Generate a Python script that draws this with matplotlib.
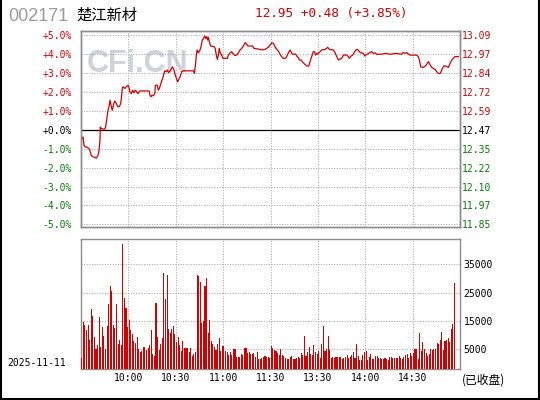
import matplotlib
matplotlib.use("Agg")
import matplotlib.pyplot as plt
import numpy as np
from matplotlib.lines import Line2D

code = "002171"
name = "楚江新材"
trade_date = "2025-11-11"
prev_close = 12.47
last_price = 12.95

# price line: trading minutes since 9:30 and % change vs previous close
times = [0.6, 1.3, 1.9, 2.7, 4.0, 5.5, 6.5, 8.0, 9.7, 10.8, 11.4, 12.0, 12.2, 12.9,
         15.0, 15.6, 16.2, 17.1, 17.7, 18.4, 19.0, 19.8, 20.5, 21.3, 22.4, 23.4,
         24.5, 25.3, 26.2, 26.8, 27.7, 28.7, 29.8, 30.4, 31.0, 31.9, 32.7, 33.6,
         34.4, 35.3, 36.1, 37.2, 43.1, 43.7, 44.3, 45.0, 45.8, 46.7, 47.1, 48.3,
         49.0, 49.8, 50.9, 52.0, 53.0, 54.0, 54.7, 55.5, 56.8, 58.0, 58.9, 59.7,
         61.2, 62.7, 63.8, 64.8, 71.1, 71.8, 72.6, 73.0, 73.5, 74.3, 75.2, 76.0,
         76.8, 77.7, 78.3, 79.0, 79.6, 80.2, 80.6, 81.3, 82.1, 84.4, 84.9, 85.5,
         86.3, 87.0, 87.6, 88.2, 89.1, 89.9, 92.7, 93.3, 94.4, 95.4, 96.5, 97.5,
         98.6, 99.6, 100.7, 101.8, 102.8, 103.9, 104.5, 105.6, 108.7, 109.4,
         113.4, 114.4, 116.5, 118.6, 119.7, 120.8, 121.8, 122.9, 123.9, 125.0,
         126.0, 127.1, 128.1, 129.6, 130.2, 131.3, 132.4, 133.0, 133.8, 136.0,
         136.6, 137.7, 138.3, 139.4, 140.2, 141.2, 142.3, 143.3, 144.2, 145.0,
         145.7, 146.3, 147.1, 147.8, 148.6, 149.2, 149.9, 150.7, 151.4, 152.4,
         154.5, 155.6, 156.2, 157.3, 159.8, 160.9, 162.0, 163.0, 164.0, 165.1,
         166.2, 168.3, 169.3, 169.9, 171.0, 172.1, 172.9, 174.0, 175.0, 175.9,
         176.7, 178.8, 179.7, 180.3, 182.0, 184.1, 185.1, 186.2, 187.3, 190.4,
         193.0, 196.0, 199.0, 203.1, 204.1, 205.2, 206.3, 207.3, 208.4, 212.6,
         213.6, 214.3, 215.1, 216.2, 217.4, 218.5, 220.0, 221.0, 222.1, 223.1,
         224.2, 225.3, 226.3, 227.4, 228.0, 228.9, 229.9, 231.0, 232.0, 232.6,
         233.7, 234.8, 235.8, 236.9, 239.0]
chg_pct = [-0.48, -0.39, -0.83, -0.92, -0.92, -1.06, -1.36, -1.45, -1.50, -1.36, -1.10, -0.57, 0.14, 0.05,
           0.02, 0.14, 0.49, 1.02, 1.20, 1.55, 1.29, 1.02, 1.29, 1.51, 1.37, 1.20,
           1.23, 1.46, 2.22, 2.26, 2.17, 2.26, 2.34, 2.22, 1.99, 1.90, 2.08, 1.94,
           2.08, 1.99, 1.90, 2.04, 2.04, 1.81, 1.73, 1.81, 1.78, 1.90, 2.34, 2.34,
           2.08, 2.22, 2.52, 2.78, 3.10, 3.05, 3.14, 3.00, 3.14, 3.31, 3.14, 2.87,
           2.52, 2.78, 3.05, 3.10, 3.10, 2.96, 3.49, 3.93, 4.20, 4.05, 4.16, 4.37,
           4.72, 4.81, 4.94, 4.81, 4.90, 4.72, 4.87, 4.63, 4.41, 4.37, 4.29, 4.02,
           3.70, 3.93, 4.29, 4.05, 3.93, 3.76, 3.76, 3.93, 4.05, 4.11, 3.98, 3.91,
           3.93, 4.05, 4.20, 4.29, 4.41, 4.58, 4.55, 4.41, 4.41, 4.29,
           4.23, 4.20, 4.23, 4.34, 4.46, 4.58, 4.55, 4.37, 4.23, 4.14,
           3.98, 3.84, 3.76, 3.76, 3.84, 4.05, 4.20, 4.11, 3.98, 3.98,
           3.88, 3.79, 3.67, 3.67, 3.58, 3.49, 3.40, 3.35, 3.35, 3.58,
           3.76, 3.93, 4.11, 4.11, 3.93, 4.02, 3.98, 4.05, 4.11, 4.20,
           4.23, 4.29, 4.34, 4.23, 4.20, 4.05, 3.84, 3.67, 3.72, 3.76,
           3.93, 3.93, 3.84, 3.76, 3.88, 3.93, 4.05, 4.20, 4.23, 4.16,
           4.07, 4.02, 3.88, 3.93, 4.02, 4.11, 4.02, 4.05, 3.97, 3.98,
           4.02, 3.97, 4.02, 3.98, 4.07, 4.02, 4.07, 3.98, 3.93, 3.93,
           3.84, 3.67, 3.31, 3.28, 3.31, 3.40, 3.58, 3.44, 3.28, 3.23,
           3.17, 3.05, 2.96, 2.96, 3.05, 3.23, 3.37, 3.35, 3.31, 3.28,
           3.49, 3.67, 3.76, 3.85, 3.85]

# per-minute volume (lots), morning 9:30-11:30 and afternoon from 13:00
vol_am = [2060, 14760, 13580, 11820, 13580, 8290, 19220, 16750, 9350, 5000,
          6520, 16400, 5700, 12990, 9700, 5110, 13230, 20990, 27330, 25570,
          13580, 12640, 20990, 6880, 8290, 6520, 42100, 23100, 19570, 12870,
          15340, 11820, 10400, 7940, 7230, 9350, 5110, 4060, 4530, 5820,
          5820, 4760, 5470, 6520, 11820, 3350, 2760, 21340, 9350, 4760,
          6880, 8990, 31920, 22750, 31210, 12170, 10760, 12170, 13230, 10400,
          7580, 9350, 6520, 4410, 7940, 5470, 5470, 5470, 4060, 5470,
          2650, 3350, 4060, 31210, 30860, 28750, 14280, 14990, 27330, 30160,
          10760, 15340, 7940, 6880, 5820, 4760, 6880, 8990, 4410, 6170,
          6170, 4410, 4060, 3000, 4060, 3000, 5110, 5110, 2170, 2290,
          2290, 3350, 2880, 5470, 5470, 3700, 4060, 3350, 3350, 3700,
          2290, 4060, 1590, 1590, 1940, 2290, 2650, 2290, 2290, 1940]
vol_pm = [6170, 5470, 4760, 4410, 3700, 3000, 5110, 3000, 2650, 1940,
          1590, 1590, 2290, 2650, 1590, 1590, 1940, 2290, 1940, 3700,
          3000, 9700, 2650, 4060, 5820, 3350, 3000, 6520, 4060, 3350,
          4410, 1940, 6880, 13230, 4410, 5110, 9700, 4760, 1940, 2290,
          1940, 2290, 2290, 2290, 2290, 1590, 1940, 2290, 3000, 1940,
          2290, 3000, 4060, 1940, 6880, 2650, 1230, 1230, 3000, 4060,
          4410, 1230, 2290, 3350, 1590, 1590, 2650, 2650, 1940, 1940,
          1590, 1590, 1940, 1590, 1230, 2290, 2290, 1940, 1940, 1940,
          1940, 2650, 1940, 1590, 2290, 3000, 3350, 1940, 3700, 2650,
          3700, 5110, 5110, 1590, 10760, 4410, 7580, 5110, 3580, 2650,
          3350, 5110, 4760, 5110, 5110, 7230, 6880, 8290, 11110, 4760,
          7940, 8290, 8990, 7580, 12170, 13930, 28390]

time_ticks = [30, 60, 90, 120, 150, 180, 210]
time_labels = ["10:00", "10:30", "11:00", "11:30", "13:30", "14:00", "14:30"]
pct_ticks = [5, 4, 3, 2, 1, 0, -1, -2, -3, -4, -5]
vol_ticks = [5000, 15000, 25000, 35000]

RED = "#d40000"
GREEN = "#008000"
GRID = "#a8a8a8"
FRAME = "#8c8c8c"
MONO = "DejaVu Sans Mono"

W, H = 540, 400
fig = plt.figure(figsize=(W / 100, H / 100), dpi=100)


def box(x0, y0, x1, y1):
    # pixel box (top-left origin) -> figure fraction rect
    return [x0 / W, 1 - y1 / H, (x1 - x0) / W, (y1 - y0) / H]


def style_axes(a):
    for s in a.spines.values():
        s.set_color(FRAME)
        s.set_linewidth(1.0)
    a.tick_params(length=0)


grid_kw = dict(color=GRID, lw=0.75, ls=(0, (1, 1.5)), zorder=1)

# ---- price panel
ax = fig.add_axes(box(81, 31, 460, 227.3))
ax.set_xlim(0, 240)
ax.set_ylim(-5.15, 5.2)
style_axes(ax)
for t in time_ticks:
    ax.axvline(t, **grid_kw)
for p in pct_ticks:
    if p != 0:
        ax.axhline(p, **grid_kw)
ax.axhline(0, color="black", lw=0.9, zorder=2)
ax.text(138 / W, 1 - 64 / H, "CFi.CN", transform=fig.transFigure, fontsize=22,
        fontweight="bold", family="Liberation Sans", color="#cfd3d9",
        ha="center", va="center", zorder=0)
ax.plot(times, chg_pct, color=RED, lw=0.9, zorder=3)
ax.set_xticks([])
ax.set_yticks(pct_ticks)
ax.set_yticklabels([f"{p:+.1f}%" for p in pct_ticks], family=MONO, fontsize=7)
ax.tick_params(axis="y", pad=6.5)

ax2 = ax.twinx()
ax2.set_ylim(ax.get_ylim())
style_axes(ax2)
ax2.set_yticks(pct_ticks)
ax2.set_yticklabels([f"{prev_close * (1 + p / 100):.2f}" for p in pct_ticks],
                    family=MONO, fontsize=7)
ax2.tick_params(axis="y", pad=1.5)

for a in (ax, ax2):
    for lab, p in zip(a.get_yticklabels(), pct_ticks):
        lab.set_color(RED if p > 0 else (GREEN if p < 0 else "black"))

# ---- volume panel
vax = fig.add_axes(box(81, 238.7, 460, 369.3))
vol_floor = -2050
vax.set_xlim(0, 240)
vax.set_ylim(vol_floor, 44000)
style_axes(vax)
for t in time_ticks:
    vax.axvline(t, **grid_kw)
for v in vol_ticks:
    vax.axhline(v, **grid_kw)
volume = np.array(vol_am + vol_pm)
minutes = np.concatenate([np.arange(len(vol_am)), 120 + np.arange(len(vol_pm))]) + 0.5
vax.bar(minutes, volume - vol_floor, bottom=vol_floor, width=0.68, color=RED,
        linewidth=0, zorder=3)
vax.yaxis.tick_right()
vax.set_yticks(vol_ticks)
vax.set_yticklabels([str(v) for v in vol_ticks], family=MONO, fontsize=7)
vax.tick_params(axis="y", pad=2.5)
vax.set_xticks(time_ticks)
vax.set_xticklabels(time_labels, family=MONO, fontsize=7)
vax.tick_params(axis="x", pad=2.5)

# ---- header and side texts
change = last_price - prev_close
fig.text(8 / W, 1 - 16.5 / H, code, family="Liberation Sans", fontsize=13,
         color="#9a9a9a", va="center")
fig.text(76 / W, 1 - 15.5 / H, name, family=["Noto Sans CJK SC", "DejaVu Sans"],
         fontsize=11, color="black", va="center")
fig.text(255 / W, 1 - 14 / H,
         f"{last_price:.2f} {change:+.2f} ({change / prev_close * 100:+.2f}%)",
         family=MONO, fontsize=9.2, color=RED, va="center")
fig.text(7 / W, 1 - 363 / H, trade_date, family=MONO, fontsize=7, va="center")
fig.text(462 / W, 1 - 380 / H, "(已收盘)", family=["Noto Sans CJK SC", "DejaVu Sans"],
         fontsize=8.5, va="center")

# outer frame
for xs, ys in (([0.001, 0.001], [0, 1]), ([0.999, 0.999], [0, 1]), ([0, 1], [0.002, 0.002])):
    fig.add_artist(Line2D(xs, ys, transform=fig.transFigure, color="black", lw=1.5))

fig.savefig("out.png", dpi=100)
